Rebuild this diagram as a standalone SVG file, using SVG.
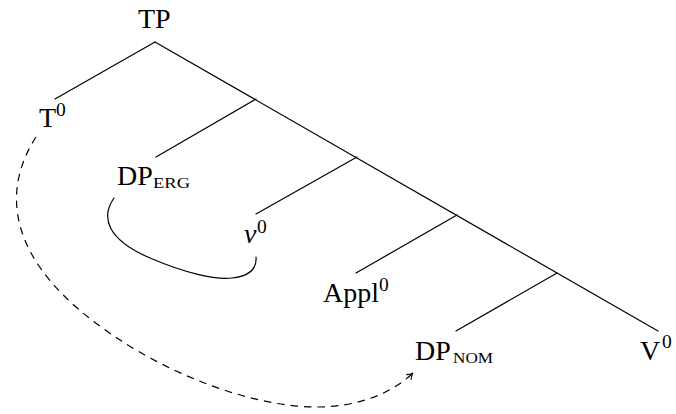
<svg xmlns="http://www.w3.org/2000/svg" width="676" height="414" viewBox="0 0 676 414">
<style>
  .lbl { font-family: "Liberation Serif", "Times New Roman", serif; font-size: 28px; fill: #000; }
  .sup { font-family: "Liberation Serif", "Times New Roman", serif; font-size: 19.5px; fill: #000; }
  .sub { font-family: "Liberation Serif", "Times New Roman", serif; font-size: 14px; fill: #000; }
  .edge { stroke: #000; stroke-width: 1.2; fill: none; stroke-linecap: round; }
  .move { stroke: #000; stroke-width: 1.2; fill: none; stroke-dasharray: 7.5 6; }
</style>
<defs>
  <marker id="arrow" viewBox="-8 -5 10 10" refX="0" refY="0" markerWidth="10" markerHeight="10" markerUnits="userSpaceOnUse" orient="auto">
    <path d="M-6,-3.5 Q-3,-0.6 0,0 Q-3,0.6 -6,3.5" fill="none" stroke="#000" stroke-width="1.1" stroke-dasharray="none"/>
  </marker>
</defs>
<rect width="676" height="414" fill="#fff"/>

<g id="connectors">
  <line class="edge" x1="155" y1="42" x2="55" y2="99"/>
  <line class="edge" x1="155" y1="42" x2="658" y2="331"/>
  <line class="edge" x1="256" y1="99" x2="156" y2="157"/>
  <line class="edge" x1="357" y1="157" x2="256" y2="214"/>
  <line class="edge" x1="457" y1="215" x2="356" y2="273"/>
  <line class="edge" x1="557" y1="273" x2="456" y2="331"/>
  <path class="edge" d="M114,198 C100,218 108,240 150,258 C185,273 215,280 232,278 C250,276 257,268 256,257"/>
  <path class="move" d="M36,137 C5,185 -3,260 120,340 C170,373 250,407 317,407 C355,407 390,395 413,373" marker-end="url(#arrow)"/>
</g>

<g id="node-TP"><text class="lbl" x="138" y="28">TP</text></g>
<g id="node-T0"><text class="lbl" x="39" y="127">T</text><text class="sup" x="56" y="116">0</text></g>
<g id="node-bar1"/>
<g id="node-DP-ERG"><text class="lbl" x="117" y="185">DP</text><text class="sub" x="153" y="188" textLength="37" lengthAdjust="spacingAndGlyphs">ERG</text></g>
<g id="node-v0"><text class="lbl" x="244" y="243" font-style="italic">v</text><text class="sup" x="257" y="233">0</text></g>
<g id="node-Appl0"><text class="lbl" x="323" y="302">Appl</text><text class="sup" x="379" y="291">0</text></g>
<g id="node-DP-NOM"><text class="lbl" x="415" y="360">DP</text><text class="sub" x="453" y="363" textLength="40" lengthAdjust="spacingAndGlyphs">NOM</text></g>
<g id="node-V0"><text class="lbl" x="640" y="360">V</text><text class="sup" x="662" y="348">0</text></g>
</svg>
